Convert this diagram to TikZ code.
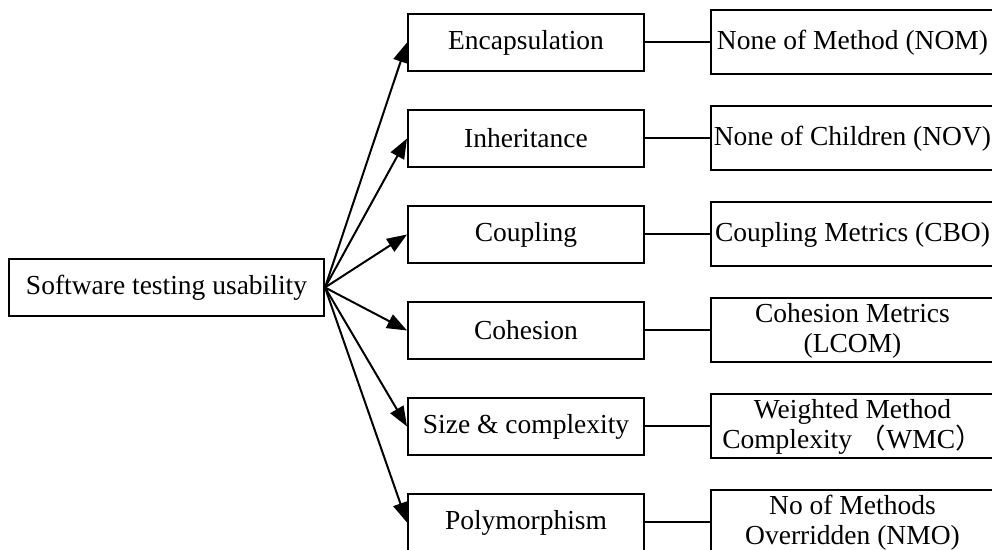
\documentclass[tikz,border=0pt]{standalone}
\usepackage{fontspec}
\setmainfont{Liberation Serif}
\newfontfamily\cjk{Noto Sans CJK SC}
\usepackage{tikz}
\usetikzlibrary{arrows.meta}

\begin{document}
\begin{tikzpicture}[x=0.5pt, y=-0.5pt,
  font=\fontsize{13.75}{15}\selectfont,
  box/.style={draw, line width=1pt, inner sep=0pt, align=center},
  rootbox/.style={box, minimum width=157.5pt, minimum height=28.5pt},
  factor/.style={box, minimum width=118pt, minimum height=28.5pt},
  metric/.style={box, minimum width=141.5pt, minimum height=32pt},
  arr/.style={draw, line width=1pt, -{Triangle[length=10pt, width=7.5pt]}},
  link/.style={draw, line width=1pt}]

\useasboundingbox (0,0) rectangle (992,550);

\node[rootbox] (root) at (166.5,287.5) {Software testing usability};

\node[factor] (enc) at (526,42.5) {Encapsulation};
\node[factor] (inh) at (526,138.5) {Inheritance};
\node[factor] (cou) at (526,234.5) {Coupling};
\node[factor] (coh) at (526,330.5) {Cohesion};
\node[factor] (siz) at (526,426.5) {Size \& complexity};
\node[factor] (pol) at (526,522.5) {Polymorphism};

\node[metric] (nom) at (852.5,42.5) {None of Method (NOM)};
\node[metric] (nov) at (852.5,138.5) {None of Children (NOV)};
\node[metric] (cbo) at (852.5,234.5) {Coupling Metrics (CBO)};
\node[metric] (lcom) at (852.5,330.5) {Cohesion Metrics\\(LCOM)};
\node[metric] (wmc) at (852.5,426.5) {Weighted Method\\Complexity {\cjk （}WMC{\cjk ）}};
\node[metric] (nmo) at (852.5,522.5) {No of Methods\\Overridden (NMO)};

\path[arr] (root.east) -- (enc.west);
\path[arr] (root.east) -- (inh.west);
\path[arr] (root.east) -- (cou.west);
\path[arr] (root.east) -- (coh.west);
\path[arr] (root.east) -- (siz.west);
\path[arr] (root.east) -- (pol.west);

\path[link] (enc) -- (nom);
\path[link] (inh) -- (nov);
\path[link] (cou) -- (cbo);
\path[link] (coh) -- (lcom);
\path[link] (siz) -- (wmc);
\path[link] (pol) -- (nmo);

\end{tikzpicture}
\end{document}
